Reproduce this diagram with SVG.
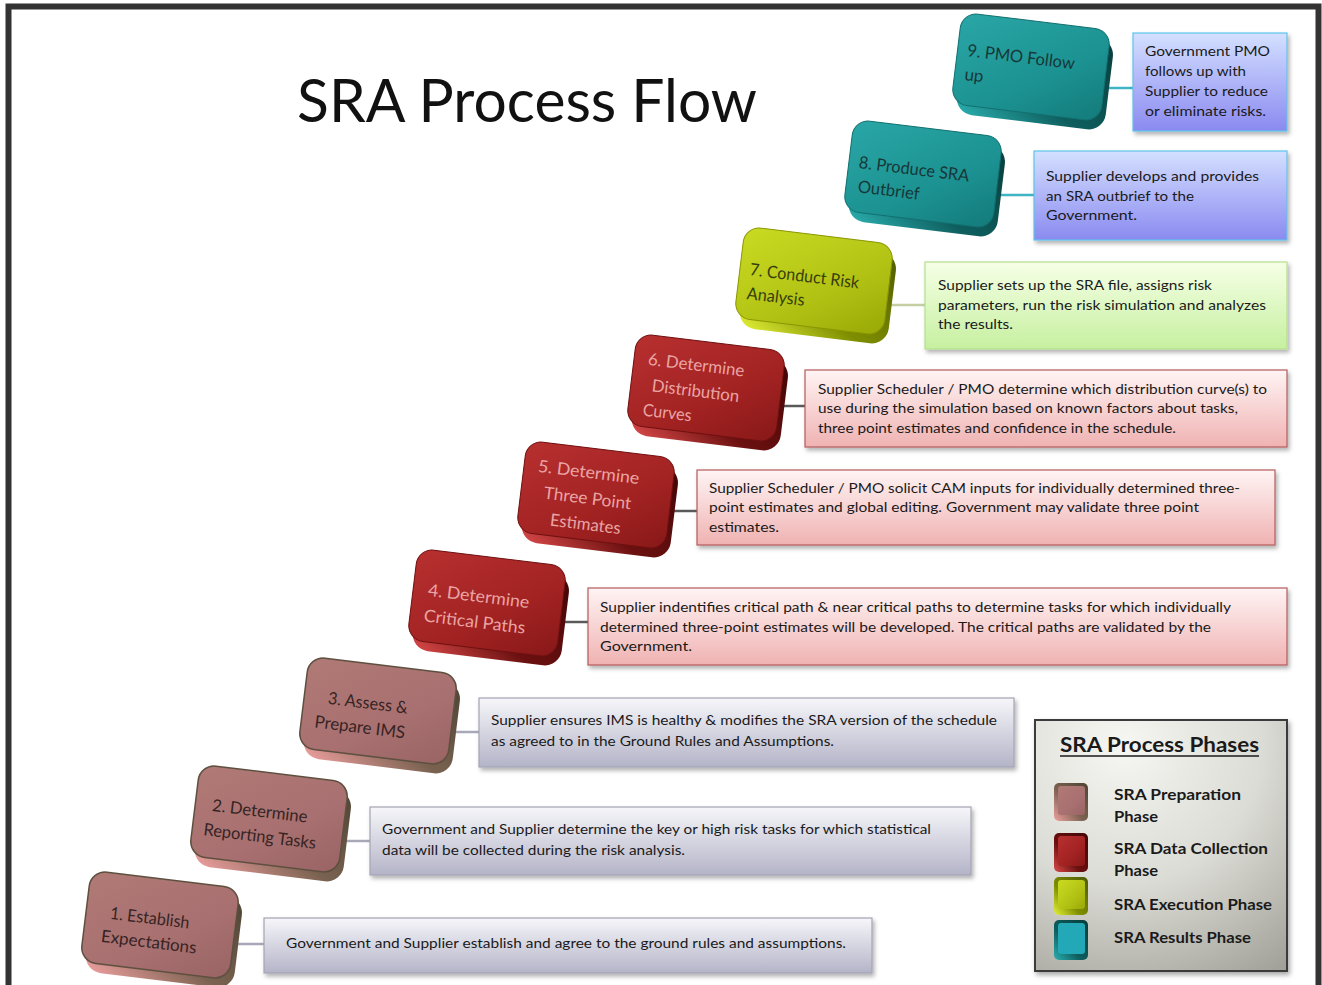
<svg xmlns="http://www.w3.org/2000/svg" width="1322" height="985" viewBox="0 0 1322 985">
<style>
.t{font-family:Lato,"Open Sans","Liberation Sans",sans-serif;font-size:14px;fill:#1a1a1a}
.lbl{font-family:Lato,"Open Sans","Liberation Sans",sans-serif;font-size:17px}
.leg{font-family:Lato,"Open Sans","Liberation Sans",sans-serif;font-size:15px;font-weight:bold;fill:#1a1a1a}
.conn{fill:none;stroke-width:2.5}
.tb{stroke-width:1.2}
</style>
<defs>
<filter id="sh" x="-5%" y="-10%" width="115%" height="130%"><feDropShadow dx="2" dy="3" stdDeviation="2" flood-color="#000" flood-opacity="0.3"/></filter>
<filter id="sh2" x="-10%" y="-10%" width="130%" height="130%"><feDropShadow dx="2" dy="3" stdDeviation="2.5" flood-color="#000" flood-opacity="0.35"/></filter>
<linearGradient id="fTeal" x1="0" y1="0" x2="1" y2="1"><stop offset="0" stop-color="#2aa6a6"/><stop offset="0.6" stop-color="#1c9292"/><stop offset="1" stop-color="#147a7a"/></linearGradient>
<linearGradient id="sTeal" x1="1" y1="0" x2="0" y2="1"><stop offset="0" stop-color="#083c3c"/><stop offset="0.6" stop-color="#0f5e5e"/><stop offset="1" stop-color="#2bb0b0"/></linearGradient>
<linearGradient id="fYel" x1="0" y1="0" x2="1" y2="1"><stop offset="0" stop-color="#cadb22"/><stop offset="0.6" stop-color="#b2c214"/><stop offset="1" stop-color="#98a806"/></linearGradient>
<linearGradient id="sYel" x1="1" y1="0" x2="0" y2="1"><stop offset="0" stop-color="#4f5a00"/><stop offset="0.6" stop-color="#7f8e00"/><stop offset="1" stop-color="#e4f238"/></linearGradient>
<linearGradient id="fRed" x1="0" y1="0" x2="1" y2="1"><stop offset="0" stop-color="#b83030"/><stop offset="0.6" stop-color="#a22222"/><stop offset="1" stop-color="#881818"/></linearGradient>
<linearGradient id="sRed" x1="1" y1="0" x2="0" y2="1"><stop offset="0" stop-color="#420606"/><stop offset="0.6" stop-color="#6a1010"/><stop offset="1" stop-color="#dc4a4a"/></linearGradient>
<linearGradient id="fRose" x1="0" y1="0" x2="1" y2="1"><stop offset="0" stop-color="#b07a76"/><stop offset="0.6" stop-color="#a87070"/><stop offset="1" stop-color="#9a6464"/></linearGradient>
<linearGradient id="sRose" x1="1" y1="0" x2="0" y2="1"><stop offset="0" stop-color="#4e4434"/><stop offset="0.55" stop-color="#7a6250"/><stop offset="1" stop-color="#f0a0a0"/></linearGradient>
<linearGradient id="gBlue" x1="0" y1="0" x2="0" y2="1"><stop offset="0" stop-color="#d4e0ff"/><stop offset="1" stop-color="#8a8af0"/></linearGradient>
<linearGradient id="gGreen" x1="0" y1="0" x2="0" y2="1"><stop offset="0" stop-color="#f6ffe6"/><stop offset="1" stop-color="#c6f0a0"/></linearGradient>
<linearGradient id="gPink" x1="0" y1="0" x2="0" y2="1"><stop offset="0" stop-color="#fff4f4"/><stop offset="1" stop-color="#f0b2b2"/></linearGradient>
<linearGradient id="gGrey" x1="0" y1="0" x2="0" y2="1"><stop offset="0" stop-color="#f6f6fa"/><stop offset="1" stop-color="#b4b4c8"/></linearGradient>
<radialGradient id="gLeg" cx="0.35" cy="0.1" r="1.1"><stop offset="0" stop-color="#f6f6f2"/><stop offset="0.5" stop-color="#dcdcd6"/><stop offset="1" stop-color="#a0a098"/></radialGradient>
</defs>

<rect x="0" y="0" width="1322" height="985" fill="#ffffff"/>
<rect id="frame" x="8.5" y="6.5" width="1310" height="1000" fill="none" stroke="#333" stroke-width="6"/>

<text id="title" x="297" y="122" font-family="Lato,'Open Sans','Liberation Sans',sans-serif" font-size="60" fill="#111" textLength="460" lengthAdjust="spacingAndGlyphs">SRA Process Flow</text>

<g id="connectors">
<line class="conn" x1="1106" y1="88" x2="1133" y2="88" stroke="#3fb4c4"/>
<line class="conn" x1="998" y1="195" x2="1034" y2="195" stroke="#3fb4c4"/>
<line class="conn" x1="889" y1="305" x2="925" y2="305" stroke="#c4d0a4"/>
<line class="conn" x1="781" y1="406" x2="805" y2="406" stroke="#5a5a5a"/>
<line class="conn" x1="671" y1="511" x2="697" y2="511" stroke="#5a5a5a"/>
<line class="conn" x1="562" y1="622" x2="588" y2="622" stroke="#5a5a5a"/>
<line class="conn" x1="453" y1="732" x2="479" y2="732" stroke="#a8a8b8"/>
<line class="conn" x1="345" y1="841" x2="370" y2="841" stroke="#a8a8b8"/>
<line class="conn" x1="236" y1="944" x2="264" y2="944" stroke="#a8a8b8"/>
</g>

<!-- 3D step boxes -->
<g id="step9" transform="translate(1031,67) rotate(7)">
<rect x="-70" y="-37" width="150" height="92" rx="17" fill="url(#sTeal)"/>
<rect x="-75" y="-46" width="150" height="92" rx="16" fill="url(#fTeal)" stroke="#137070" stroke-width="1"/>
<text class="lbl" fill="#173838"><tspan x="-65" y="-3" textLength="108" lengthAdjust="spacingAndGlyphs">9. PMO Follow</tspan><tspan x="-65" y="21">up</tspan></text>
</g>
<g id="step8" transform="translate(923,174) rotate(7)">
<rect x="-70" y="-37" width="150" height="92" rx="17" fill="url(#sTeal)"/>
<rect x="-75" y="-46" width="150" height="92" rx="16" fill="url(#fTeal)" stroke="#137070" stroke-width="1"/>
<text class="lbl" fill="#173838"><tspan x="-65" y="2" textLength="111" lengthAdjust="spacingAndGlyphs">8. Produce SRA</tspan><tspan x="-63" y="26" textLength="62" lengthAdjust="spacingAndGlyphs">Outbrief</tspan></text>
</g>
<g id="step7" transform="translate(814,281) rotate(7)">
<rect x="-70" y="-37" width="150" height="92" rx="17" fill="url(#sYel)"/>
<rect x="-75" y="-46" width="150" height="92" rx="16" fill="url(#fYel)" stroke="#8a9600" stroke-width="1"/>
<text class="lbl" fill="#363e0c"><tspan x="-65" y="2" textLength="110" lengthAdjust="spacingAndGlyphs">7. Conduct Risk</tspan><tspan x="-65" y="26" textLength="58" lengthAdjust="spacingAndGlyphs">Analysis</tspan></text>
</g>
<g id="step6" transform="translate(706,388) rotate(7)">
<rect x="-70" y="-37" width="150" height="92" rx="17" fill="url(#sRed)"/>
<rect x="-75" y="-46" width="150" height="92" rx="16" fill="url(#fRed)" stroke="#701010" stroke-width="1"/>
<text class="lbl" fill="#eaa4a4"><tspan x="-61" y="-16" textLength="97" lengthAdjust="spacingAndGlyphs">6. Determine</tspan><tspan x="-54" y="10" textLength="88" lengthAdjust="spacingAndGlyphs">Distribution</tspan><tspan x="-60" y="35" textLength="49" lengthAdjust="spacingAndGlyphs">Curves</tspan></text>
</g>
<g id="step5" transform="translate(596,495) rotate(7)">
<rect x="-70" y="-37" width="150" height="92" rx="17" fill="url(#sRed)"/>
<rect x="-75" y="-46" width="150" height="92" rx="16" fill="url(#fRed)" stroke="#701010" stroke-width="1"/>
<text class="lbl" fill="#eaa4a4" text-anchor="middle"><tspan x="-10" y="-16" textLength="102" lengthAdjust="spacingAndGlyphs">5. Determine</tspan><tspan x="-8" y="10" textLength="88" lengthAdjust="spacingAndGlyphs">Three Point</tspan><tspan x="-7" y="36" textLength="71" lengthAdjust="spacingAndGlyphs">Estimates</tspan></text>
</g>
<g id="step4" transform="translate(487,603) rotate(7)">
<rect x="-70" y="-37" width="150" height="92" rx="17" fill="url(#sRed)"/>
<rect x="-75" y="-46" width="150" height="92" rx="16" fill="url(#fRed)" stroke="#701010" stroke-width="1"/>
<text class="lbl" fill="#eaa4a4" text-anchor="middle"><tspan x="-9" y="0" textLength="102" lengthAdjust="spacingAndGlyphs">4. Determine</tspan><tspan x="-10" y="26" textLength="102" lengthAdjust="spacingAndGlyphs">Critical  Paths</tspan></text>
</g>
<g id="step3" transform="translate(378,711) rotate(7)">
<rect x="-70" y="-37" width="150" height="92" rx="17" fill="url(#sRose)"/>
<rect x="-75" y="-46" width="150" height="92" rx="16" fill="url(#fRose)" stroke="#5e5040" stroke-width="1.5"/>
<text class="lbl" fill="#362424" text-anchor="middle"><tspan x="-11" y="-1" textLength="80" lengthAdjust="spacingAndGlyphs">3. Assess &amp;</tspan><tspan x="-16" y="24" textLength="91" lengthAdjust="spacingAndGlyphs">Prepare IMS</tspan></text>
</g>
<g id="step2" transform="translate(269,819) rotate(7)">
<rect x="-70" y="-37" width="150" height="92" rx="17" fill="url(#sRose)"/>
<rect x="-75" y="-46" width="150" height="92" rx="16" fill="url(#fRose)" stroke="#5e5040" stroke-width="1.5"/>
<text class="lbl" fill="#362424" text-anchor="middle"><tspan x="-10" y="-1" textLength="96" lengthAdjust="spacingAndGlyphs">2. Determine</tspan><tspan x="-7" y="24" textLength="113" lengthAdjust="spacingAndGlyphs">Reporting Tasks</tspan></text>
</g>
<g id="step1" transform="translate(160,925) rotate(7)">
<rect x="-70" y="-37" width="150" height="92" rx="17" fill="url(#sRose)"/>
<rect x="-75" y="-46" width="150" height="92" rx="16" fill="url(#fRose)" stroke="#5e5040" stroke-width="1.5"/>
<text class="lbl" fill="#362424" text-anchor="middle"><tspan x="-11" y="0" textLength="80" lengthAdjust="spacingAndGlyphs">1. Establish</tspan><tspan x="-9" y="24" textLength="96" lengthAdjust="spacingAndGlyphs">Expectations</tspan></text>
</g>

<!-- description boxes -->
<g id="desc9">
<rect class="tb" x="1133" y="33" width="154" height="98" fill="url(#gBlue)" stroke="#5cc4ec" filter="url(#sh)"/>
<text class="t"><tspan x="1145" y="56" textLength="125" lengthAdjust="spacingAndGlyphs">Government PMO</tspan><tspan x="1145" y="76" textLength="101" lengthAdjust="spacingAndGlyphs">follows up with</tspan><tspan x="1145" y="96" textLength="123" lengthAdjust="spacingAndGlyphs">Supplier to reduce</tspan><tspan x="1145" y="116" textLength="121" lengthAdjust="spacingAndGlyphs">or eliminate risks.</tspan></text>
</g>
<g id="desc8">
<rect class="tb" x="1034" y="151" width="253" height="89" fill="url(#gBlue)" stroke="#5cc4ec" filter="url(#sh)"/>
<text class="t"><tspan x="1046" y="181" textLength="213" lengthAdjust="spacingAndGlyphs">Supplier develops and provides</tspan><tspan x="1046" y="201" textLength="148" lengthAdjust="spacingAndGlyphs">an SRA outbrief to the</tspan><tspan x="1046" y="220" textLength="91" lengthAdjust="spacingAndGlyphs">Government.</tspan></text>
</g>
<g id="desc7">
<rect class="tb" x="925" y="262" width="362" height="87" fill="url(#gGreen)" stroke="#b4e08c" filter="url(#sh)"/>
<text class="t"><tspan x="938" y="290" textLength="274" lengthAdjust="spacingAndGlyphs">Supplier sets up the SRA file, assigns risk</tspan><tspan x="938" y="310" textLength="328" lengthAdjust="spacingAndGlyphs">parameters, run the risk simulation and analyzes</tspan><tspan x="938" y="329" textLength="75" lengthAdjust="spacingAndGlyphs">the results.</tspan></text>
</g>
<g id="desc6">
<rect class="tb" x="805" y="370" width="482" height="77" fill="url(#gPink)" stroke="#b45a5a" filter="url(#sh)"/>
<text class="t"><tspan x="818" y="394" textLength="449" lengthAdjust="spacingAndGlyphs">Supplier Scheduler / PMO determine which distribution curve(s) to</tspan><tspan x="818" y="413" textLength="420" lengthAdjust="spacingAndGlyphs">use during the simulation based on known factors about tasks,</tspan><tspan x="818" y="433" textLength="358" lengthAdjust="spacingAndGlyphs">three point estimates and confidence in the schedule.</tspan></text>
</g>
<g id="desc5">
<rect class="tb" x="697" y="470" width="578" height="75" fill="url(#gPink)" stroke="#b45a5a" filter="url(#sh)"/>
<text class="t"><tspan x="709" y="493" textLength="531" lengthAdjust="spacingAndGlyphs">Supplier Scheduler / PMO solicit CAM inputs for individually determined three-</tspan><tspan x="709" y="512" textLength="490" lengthAdjust="spacingAndGlyphs">point estimates and global editing. Government may validate three point</tspan><tspan x="709" y="532" textLength="70" lengthAdjust="spacingAndGlyphs">estimates.</tspan></text>
</g>
<g id="desc4">
<rect class="tb" x="588" y="588" width="699" height="77" fill="url(#gPink)" stroke="#b45a5a" filter="url(#sh)"/>
<text class="t"><tspan x="600" y="612" textLength="631" lengthAdjust="spacingAndGlyphs">Supplier indentifies critical path &amp; near critical paths to determine tasks for which  individually</tspan><tspan x="600" y="632" textLength="611" lengthAdjust="spacingAndGlyphs">determined three-point estimates will be developed. The critical paths are validated by the</tspan><tspan x="600" y="651" textLength="92" lengthAdjust="spacingAndGlyphs">Government.</tspan></text>
</g>
<g id="desc3">
<rect class="tb" x="479" y="698" width="535" height="69" fill="url(#gGrey)" stroke="#a4a4b4" filter="url(#sh)"/>
<text class="t"><tspan x="491" y="725" textLength="506" lengthAdjust="spacingAndGlyphs">Supplier ensures IMS is healthy &amp; modifies the SRA version of the  schedule</tspan><tspan x="491" y="746" textLength="343" lengthAdjust="spacingAndGlyphs">as agreed to in the Ground Rules and Assumptions.</tspan></text>
</g>
<g id="desc2">
<rect class="tb" x="370" y="807" width="601" height="68" fill="url(#gGrey)" stroke="#a4a4b4" filter="url(#sh)"/>
<text class="t"><tspan x="382" y="834" textLength="549" lengthAdjust="spacingAndGlyphs">Government and Supplier determine the key or high risk tasks for which statistical</tspan><tspan x="382" y="855" textLength="303" lengthAdjust="spacingAndGlyphs">data will be collected during the risk analysis.</tspan></text>
</g>
<g id="desc1">
<rect class="tb" x="264" y="918" width="608" height="55" fill="url(#gGrey)" stroke="#a4a4b4" filter="url(#sh)"/>
<text class="t"><tspan x="286" y="948" textLength="560" lengthAdjust="spacingAndGlyphs">Government and Supplier establish and agree to the ground rules and assumptions.</tspan></text>
</g>

<!-- legend -->
<g id="legend">
<rect x="1035" y="720" width="252" height="251" fill="url(#gLeg)" stroke="#3a3a3a" stroke-width="2" filter="url(#sh2)"/>
<text x="1060" y="752" font-family="Lato,'Open Sans','Liberation Sans',sans-serif" font-size="20" font-weight="bold" fill="#1a1a1a" textLength="199" lengthAdjust="spacingAndGlyphs">SRA Process Phases</text>
<line x1="1060" y1="756" x2="1259" y2="756" stroke="#1a1a1a" stroke-width="1.5"/>
<rect x="1054" y="783" width="34" height="38" rx="5" fill="url(#sRose)"/>
<rect x="1058" y="786" width="27" height="29" rx="3" fill="url(#fRose)"/>
<rect x="1054" y="833" width="34" height="39" rx="5" fill="url(#sRed)"/>
<rect x="1058" y="836" width="27" height="30" rx="3" fill="url(#fRed)"/>
<rect x="1054" y="877" width="34" height="38" rx="5" fill="url(#sYel)"/>
<rect x="1058" y="880" width="27" height="29" rx="3" fill="url(#fYel)"/>
<rect x="1054" y="920" width="34" height="40" rx="5" fill="url(#sTeal)"/>
<rect x="1058" y="923" width="27" height="31" rx="3" fill="#22a8b6"/>
<text class="leg"><tspan x="1114" y="800" textLength="127" lengthAdjust="spacingAndGlyphs">SRA Preparation</tspan><tspan x="1114" y="822" textLength="44" lengthAdjust="spacingAndGlyphs">Phase</tspan></text>
<text class="leg"><tspan x="1114" y="854" textLength="154" lengthAdjust="spacingAndGlyphs">SRA Data Collection</tspan><tspan x="1114" y="876" textLength="44" lengthAdjust="spacingAndGlyphs">Phase</tspan></text>
<text class="leg" x="1114" y="910" textLength="158" lengthAdjust="spacingAndGlyphs">SRA Execution Phase</text>
<text class="leg" x="1114" y="943" textLength="137" lengthAdjust="spacingAndGlyphs">SRA Results Phase</text>
</g>
</svg>
